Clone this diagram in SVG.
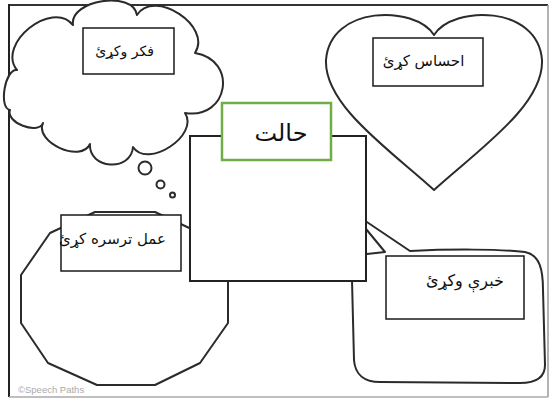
<svg xmlns="http://www.w3.org/2000/svg" width="550" height="398" viewBox="0 0 550 398">
<style>
.shape{fill:#fff;stroke:#2b2b2b;stroke-width:2;stroke-linejoin:round}
.box{fill:#fff;stroke:#1a1a1a;stroke-width:1.5}
.lbl{font-family:"DejaVu Sans",sans-serif;font-size:15px;fill:#111;text-anchor:middle;direction:rtl}
</style>
<rect width="550" height="398" fill="#fff"/>
<g id="frame">
<line x1="9" y1="5" x2="548" y2="5" stroke="#333" stroke-width="2"/>
<line x1="9" y1="4" x2="9" y2="397" stroke="#222" stroke-width="2"/>
<line x1="548" y1="5" x2="548" y2="397" stroke="#999" stroke-width="1.5"/>
<line x1="9" y1="397" x2="548" y2="397" stroke="#aaa" stroke-width="1.5"/>
<text x="18" y="393" font-family="Liberation Sans, Arial, sans-serif" font-size="9.5" fill="#aaa">©Speech Paths</text>
</g>
<g id="think">
<path class="shape" d="M17 70 C-3.9 44 52.1 -1 73 25 C69.1 0 133.1 -10 137 15 C154.5 -11.8 212.5 26.2 195 53 C238.4 60.2 228.4 120.2 185 113 C199.6 135.3 147.6 169.3 133 147 C131.2 172.2 88.2 169.2 90 144 C81.3 163.4 34.3 142.4 43 123 C38.1 135.4 5.1 122.4 10 110 C-1.8 108 5.2 68 17 70 Z"/>
<circle class="shape" cx="145" cy="168" r="6.5"/>
<circle class="shape" cx="160.5" cy="184.5" r="4"/>
<circle class="shape" cx="172.5" cy="195" r="2.5"/>
<rect class="box" x="83" y="28" width="91" height="46"/>
<text class="lbl" x="124.5" y="56" style="font-size:14px">فکر وکړئ</text>
</g>
<g id="feel">
<path class="shape" d="M434 35 C415 5 330 5 326 60 C324 105 390 150 434 190 C478 150 544 105 542 60 C538 5 453 5 434 35 Z"/>
<rect class="box" x="373" y="38" width="110" height="48"/>
<text class="lbl" x="423.5" y="66">احساس کړئ</text>
</g>
<g id="act">
<polygon class="shape" points="95,212 155,212 200,233 228,275 228,323 200,363 155,385 97,385 48,363 21,323 21,275 50,233"/>
<rect class="box" x="61" y="215" width="120" height="56"/>
<text class="lbl" x="112.5" y="244">عمل ترسره کړئ</text>
</g>
<g id="talk">
<path class="shape" d="M385 252 L352 212 L410 251 C450 249 500 249 525 252 C540 255 543 270 543 290 L545 365 C545 378 535 383 520 383 L380 382 C365 382 355 375 354 360 L352 280 C352 265 355 255 367 254 Z"/>
<rect class="box" x="386" y="256" width="138" height="63"/>
<text class="lbl" x="465" y="286" style="font-size:16px">خبرې وکړئ</text>
</g>
<g id="situation">
<rect x="190" y="136" width="176" height="145" fill="#fff" stroke="#222" stroke-width="2"/>
<rect x="222" y="103" width="109" height="57" fill="#fff" stroke="#70ad47" stroke-width="2.5"/>
<text class="lbl" x="281" y="141" style="font-size:24px">حالت</text>
</g>
</svg>
